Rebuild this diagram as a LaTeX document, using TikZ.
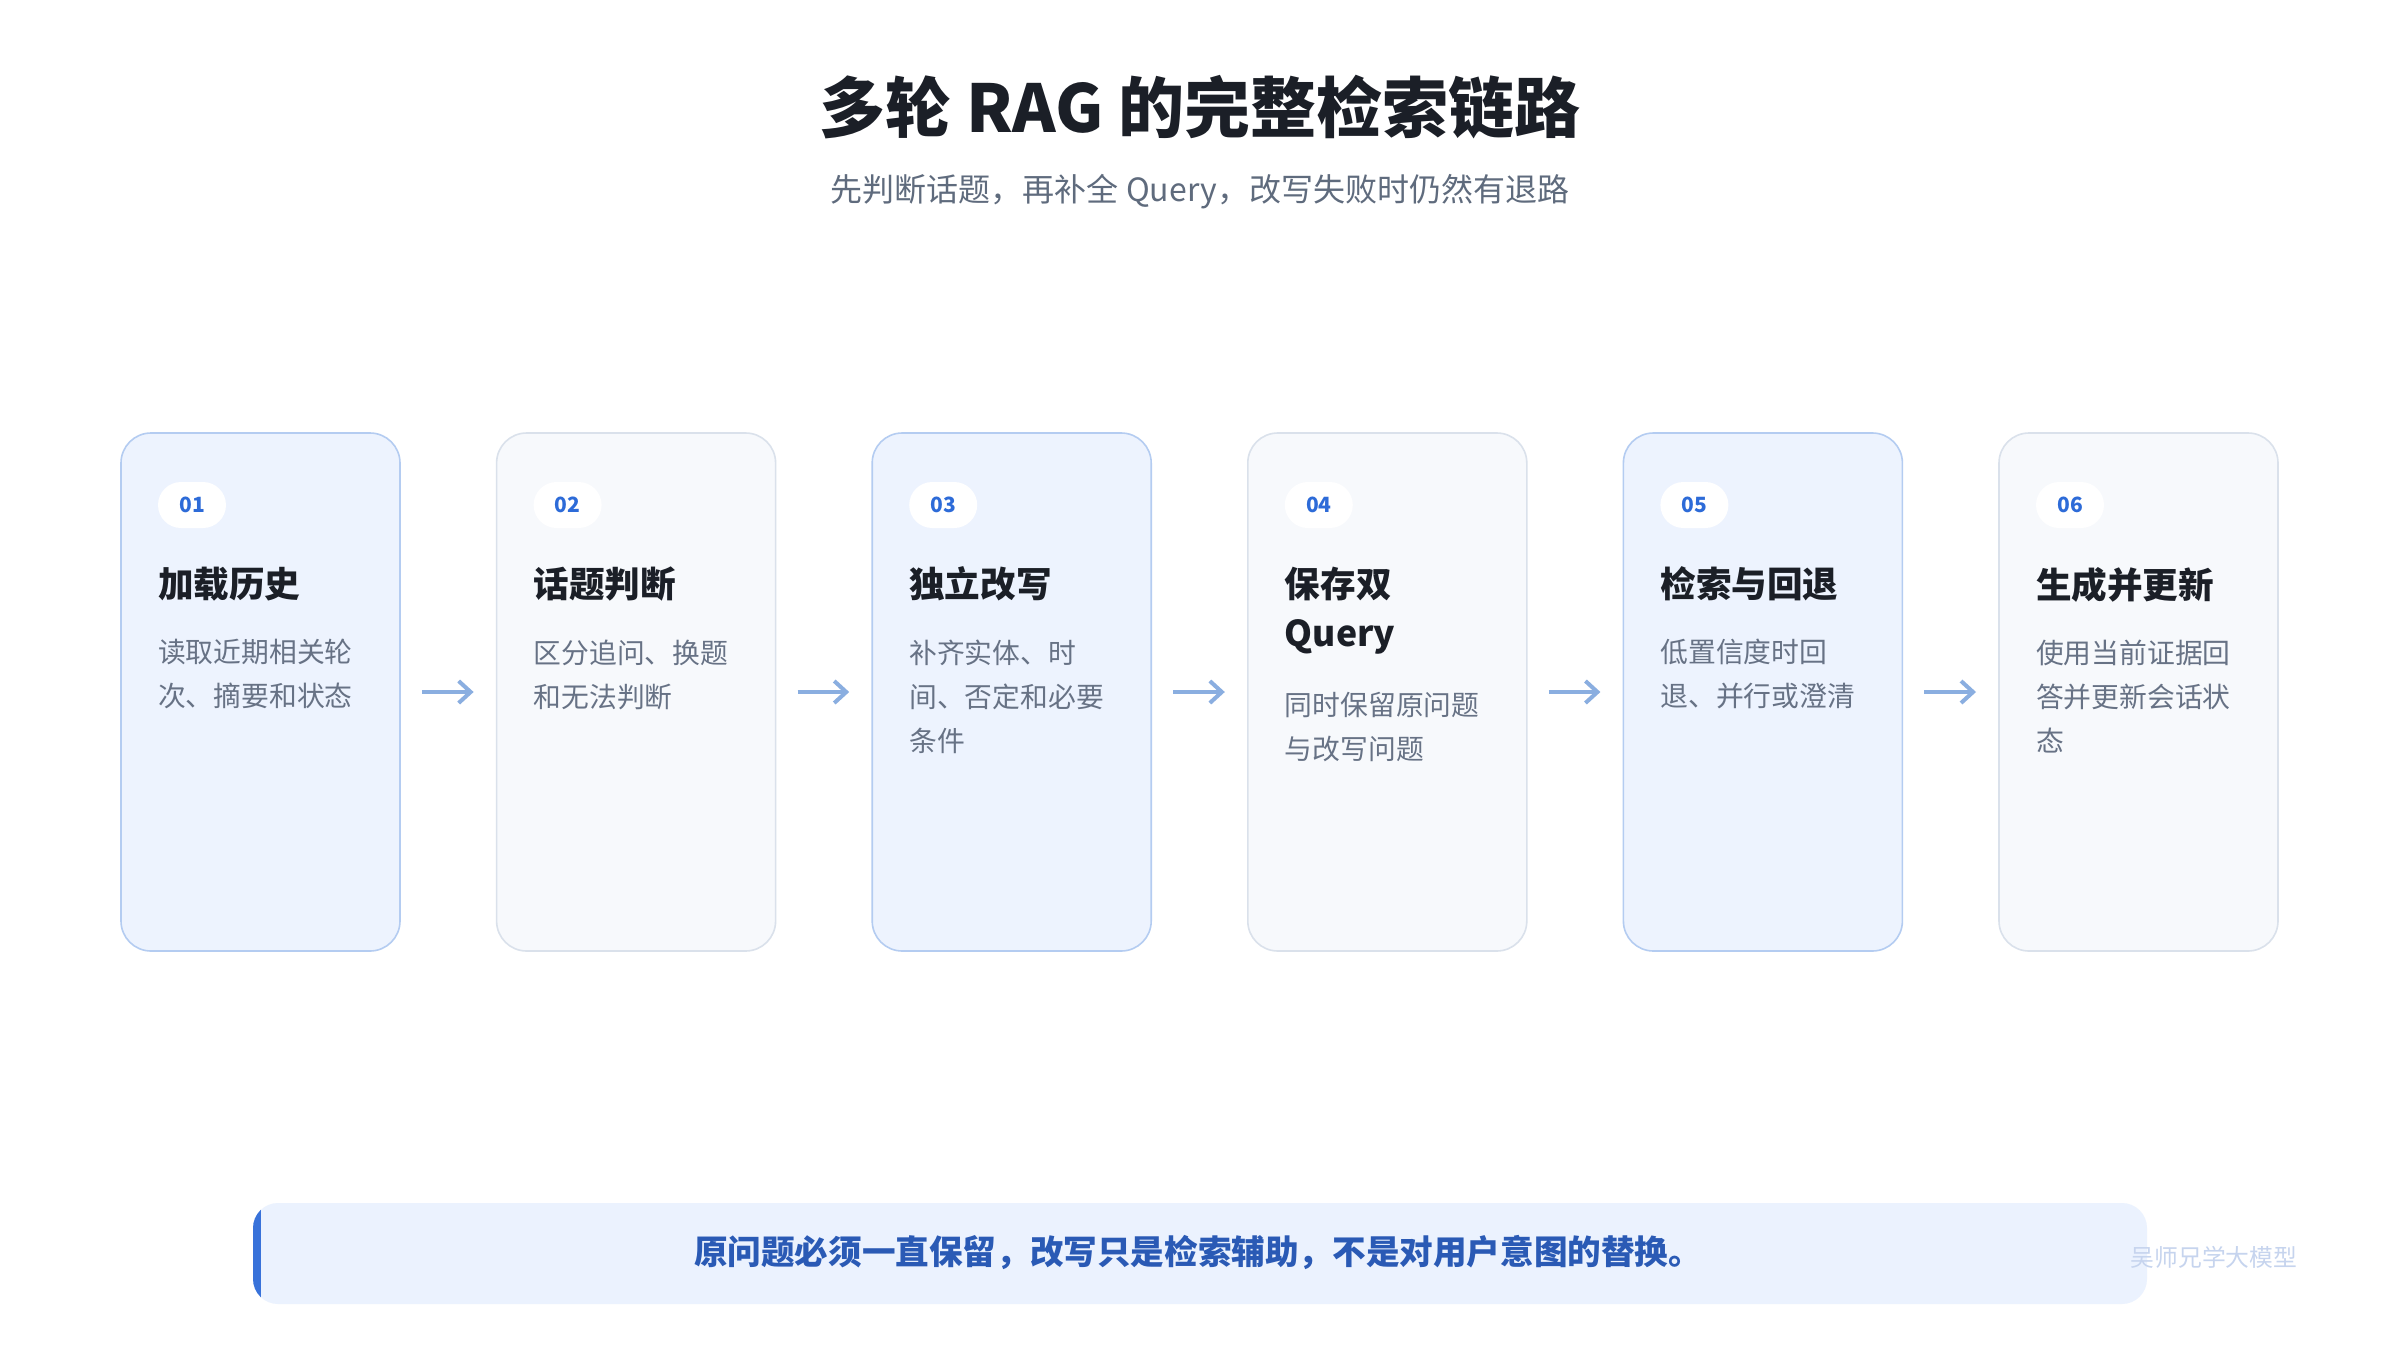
\documentclass[tikz,border=0pt]{standalone}
\usepackage{fontspec}
\setmainfont{Noto Sans CJK SC}
\usetikzlibrary{arrows.meta,positioning,calc}

\definecolor{titlefg}{HTML}{1B1F27}
\definecolor{subfg}{HTML}{5F6B7D}
\definecolor{descfg}{HTML}{677285}
\definecolor{oddfill}{HTML}{EDF3FE}
\definecolor{oddline}{HTML}{B4CCF1}
\definecolor{evenfill}{HTML}{F7F9FC}
\definecolor{evenline}{HTML}{DAE1EB}
\definecolor{badgefg}{HTML}{2D6BD8}
\definecolor{arrowc}{HTML}{8AAEE0}
\definecolor{barfill}{HTML}{EBF2FE}
\definecolor{barline}{HTML}{3872DA}
\definecolor{bartext}{HTML}{2A5AB5}
\definecolor{wmark}{HTML}{C6D4EE}

\begin{document}
\begin{tikzpicture}[x=0.5pt, y=-0.5pt,
        every node/.style={inner sep=0pt, outer sep=0pt},
        card/.style={rounded corners=15pt, minimum width=139.5pt, minimum height=259pt, line width=0.8pt},
        oddcard/.style={card, draw=oddline, fill=oddfill},
        evencard/.style={card, draw=evenline, fill=evenfill},
        badge/.style={fill=white, rounded corners=11.5pt, minimum width=34pt, minimum height=23pt,
            font=\bfseries\fontsize{10.5}{12}\selectfont, text=badgefg},
        cardtitle/.style={align=left, font=\bfseries\fontsize{17.8}{24.5}\selectfont, text=titlefg},
        carddesc/.style={align=left, font=\fontsize{13.9}{22}\selectfont, text=descfg},
        flow/.style={draw=arrowc, line width=2pt, -{Straight Barb[length=6pt, width=11pt]},
            shorten <=11pt, shorten >=11.5pt}
    ]
        \fill[white] (0,0) rectangle (2400,1350);
        \useasboundingbox (0,0) rectangle (2400,1350);

        % heading
        \node[font=\bfseries\fontsize{33}{38}\selectfont, text=titlefg] (title) at (1200,107) {多轮 RAG 的完整检索链路};
        \node[font=\fontsize{16}{20}\selectfont, text=subfg] (subtitle) at (1200,192) {先判断话题，再补全 Query，改写失败时仍然有退路};

        % six steps
        \foreach \n/\kind/\ttl/\dsc [count=\i from 1] in {
            01/oddcard/加载历史/{读取近期相关轮\\次、摘要和状态},
            02/evencard/话题判断/{区分追问、换题\\和无法判断},
            03/oddcard/独立改写/{补齐实体、时\\间、否定和必要\\条件},
            04/evencard/{保存双\\Query}/{同时保留原问题\\与改写问题},
            05/oddcard/检索与回退/{低置信度时回\\退、并行或澄清},
            06/evencard/生成并更新/{使用当前证据回\\答并更新会话状\\态}} {
            \node[\kind] (c\i) at ({260.5+375.6*(\i-1)},692) {};
            \node[badge, below right=24.5pt and 18.5pt of c\i.north west] (b\i) {\n};
            \node[cardtitle, below right=19.5pt and 0pt of b\i.south west] (t\i) {\ttl};
            \node[carddesc, below right=19pt and 0pt of t\i.south west] (d\i) {\dsc};
        }

        \foreach \a/\b in {1/2,2/3,3/4,4/5,5/6}
            \draw[flow] (c\a) -- (c\b);

        % note bar
        \node[fill=barfill, rounded corners=12.5pt, minimum width=947pt, minimum height=50.5pt] (note) at (1200,1253.5) {};
        \begin{scope}
            \clip[rounded corners=12.5pt] (note.north west) rectangle (note.south east);
            \fill[barline] (note.north west) rectangle ($(note.south west)+(4pt,0)$);
        \end{scope}
        \node[font=\bfseries\fontsize{16.8}{20}\selectfont, text=bartext] (notetext) at (1198,1252) {原问题必须一直保留，改写只是检索辅助，不是对用户意图的替换。};
        \node[font=\fontsize{11.9}{14}\selectfont, text=wmark] (wm) at (2214,1257) {吴师兄学大模型};
    \end{tikzpicture}
\end{document}
